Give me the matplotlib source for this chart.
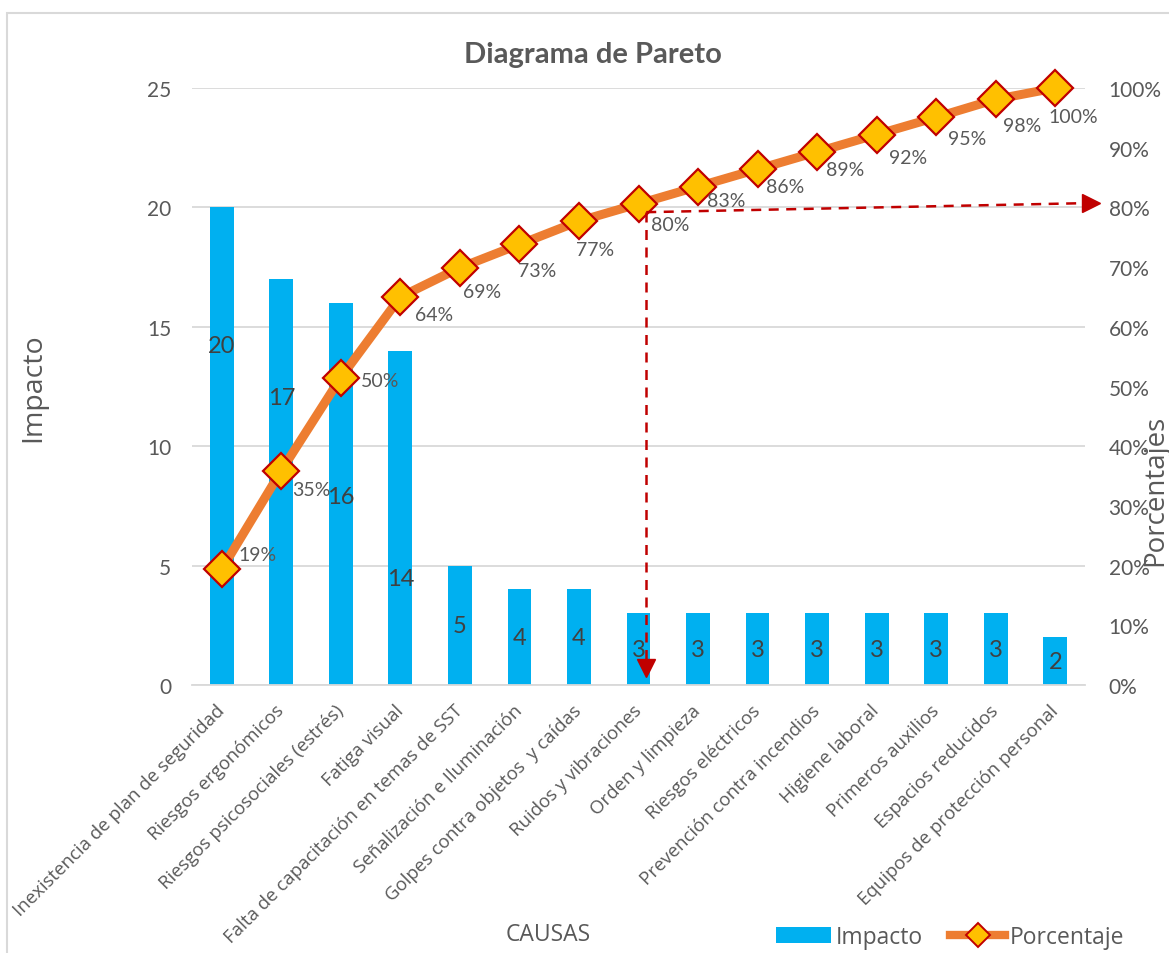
import matplotlib
matplotlib.use("Agg")
import matplotlib.pyplot as plt
from matplotlib.patches import Rectangle, Patch
from matplotlib.lines import Line2D

# ---------------- data ----------------
categories = [
    "Inexistencia de plan de seguridad",
    "Riesgos ergonómicos",
    "Riesgos psicosociales (estrés)",
    "Fatiga visual",
    "Falta de capacitación en temas de SST",
    "Señalización e Iluminación",
    "Golpes contra objetos  y caídas",
    "Ruidos y vibraciones",
    "Orden y limpieza",
    "Riesgos eléctricos",
    "Prevención contra incendios",
    "Higiene laboral",
    "Primeros auxilios",
    "Espacios reducidos",
    "Equipos de protección personal",
]
impacto = [20, 17, 16, 14, 5, 4, 4, 3, 3, 3, 3, 3, 3, 3, 2]
porcentaje = [19.4, 35.9, 51.5, 65.0, 69.9, 73.8, 77.7, 80.6, 83.5, 86.4,
              89.3, 92.2, 95.1, 98.1, 100.0]
porcentaje_labels = ["19%", "35%", "50%", "64%", "69%", "73%", "77%", "80%",
                     "83%", "86%", "89%", "92%", "95%", "98%", "100%"]
left_ticks = [0, 5, 10, 15, 20, 25]
right_ticks = [0, 10, 20, 30, 40, 50, 60, 70, 80, 90, 100]

# ---------------- layout / style (not data) ----------------
bar_label_y = [14.2, 12.05, 7.9, 4.45, 2.5, 2.0, 2.0, 1.5, 1.5, 1.5, 1.5, 1.5, 1.5, 1.5, 1.0]
pct_offsets = [(36, 15), (30, -19), (39, -3), (34, -18), (22, -24), (18, -26),
               (16, -28), (32, -21), (28, -14), (28, -17), (28, -18), (31, -23),
               (31, -21), (26, -26), (18, -28)]

BLUE = "#00B0F0"
ORANGE = "#ED7D31"
GOLD = "#FFC000"
DARKRED = "#C00000"
GRID = "#D9D9D9"
TXT = "#595959"

W, H = 1169, 954
fig = plt.figure(figsize=(W / 100, H / 100), dpi=100)
fig.patch.set_facecolor("white")

# chart border
fig.patches.append(Rectangle((7 / W, -0.05), 1.2, (H - 14) / H + 0.05,
                             transform=fig.transFigure, fill=False,
                             edgecolor=GRID, linewidth=1.5))

ax = fig.add_axes([192 / W, 1 - 686 / H, (1085 - 192) / W, (686 - 89) / H])
x = list(range(len(categories)))

ax.bar(x, impacto, width=0.4, color=BLUE, zorder=2)
ax.set_xlim(-0.5, len(categories) - 0.5)
ax.set_ylim(0, 25)
ax.set_yticks(left_ticks)
ax.grid(axis="y", color=GRID, linewidth=1.3, zorder=0)
ax.set_axisbelow(True)
for s in ["top", "right", "left"]:
    ax.spines[s].set_visible(False)
ax.spines["bottom"].set_color(GRID)
ax.spines["bottom"].set_linewidth(1.3)
ax.tick_params(axis="both", length=0)
ax.tick_params(axis="y", labelsize=15, labelcolor=TXT, pad=15)
for lab in ax.get_yticklabels():
    lab.set_family("Lato")

ax.set_xticks(x)
ax.set_xticklabels(categories, rotation=45, ha="right", va="center",
                   rotation_mode="anchor", fontsize=13.4, color=TXT,
                   family="Open Sans")
ax.tick_params(axis="x", pad=16)

for xi, v, ly in zip(x, impacto, bar_label_y):
    ax.text(xi, ly, str(v), ha="center", va="center", fontsize=17,
            color="#404040", family="Lato", zorder=3)

ax2 = ax.twinx()
ax2.set_ylim(0, 100)
ax2.set_yticks(right_ticks)
ax2.set_yticklabels([f"{t}%" for t in right_ticks])
for s in ["top", "right", "left", "bottom"]:
    ax2.spines[s].set_visible(False)
ax2.tick_params(axis="y", length=0, labelsize=15, labelcolor=TXT, pad=17)
for lab in ax2.get_yticklabels():
    lab.set_family("Lato")

ax2.plot(x, porcentaje, color=ORANGE, linewidth=6.5, marker="D",
         markersize=18.5, markerfacecolor=GOLD, markeredgecolor=DARKRED,
         markeredgewidth=1.6, zorder=4, solid_capstyle="round", clip_on=False)

for xi, p, lab, (dx, dy) in zip(x, porcentaje, porcentaje_labels, pct_offsets):
    ax2.annotate(lab, (xi, p), xytext=(dx, dy), textcoords="offset pixels",
                 ha="center", va="center", fontsize=14, color=TXT,
                 family="Lato", zorder=5)

# 80% guide arrows
ax2.plot([7.13, 7.13], [79.2, 4.0], color=DARKRED, linestyle=(0, (4, 3)),
         linewidth=1.8, zorder=5, clip_on=False)
ax2.plot([7.13], [2.8], marker="v", markersize=13, color=DARKRED,
         zorder=5, clip_on=False)
ax2.plot([7.13, 14.45], [79.2, 80.7], color=DARKRED, linestyle=(0, (4, 3)),
         linewidth=1.8, zorder=5, clip_on=False)
ax2.plot([14.6], [80.7], marker=">", markersize=13, color=DARKRED,
         zorder=5, clip_on=False)

# titles / labels
fig.text(593 / W, 1 - 55 / H, "Diagrama de Pareto", ha="center", va="center",
         fontsize=21, fontweight="bold", color=TXT, family="Lato")
fig.text(33 / W, 1 - 388 / H, "Impacto", rotation=90, ha="center", va="center",
         fontsize=20.5, color=TXT, family="Open Sans")
fig.text(1155 / W, 1 - 490 / H, "Porcentajes", rotation=90, ha="center",
         va="center", fontsize=20, color=TXT, family="Open Sans")
fig.text(548 / W, 1 - 935 / H, "CAUSAS", ha="center", va="center",
         fontsize=16.5, color=TXT, family="Open Sans")

handles = [Patch(facecolor=BLUE, edgecolor="none"),
           Line2D([0], [0], color=ORANGE, linewidth=6, marker="D",
                  markersize=12, markerfacecolor=GOLD, markeredgecolor=DARKRED,
                  markeredgewidth=1.4)]
fig.legend(handles, ["Impacto", "Porcentaje"], loc="center",
           bbox_to_anchor=(950 / W, 1 - 938 / H), ncol=2, frameon=False,
           prop={"family": "Open Sans", "size": 16.5}, labelcolor=TXT,
           handlelength=2.4, handletextpad=0.2, columnspacing=1.2)

fig.savefig("out.png", dpi=100, facecolor="white")
